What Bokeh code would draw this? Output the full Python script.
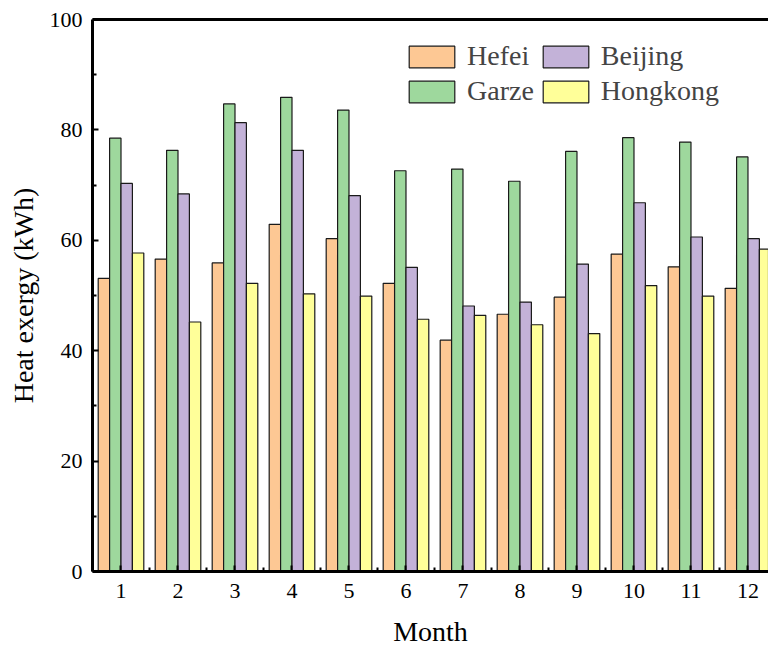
from bokeh.plotting import figure
from bokeh.models import (ColumnDataSource, Legend, LegendItem, FixedTicker, LinearAxis, Range1d)
from bokeh.embed import file_html
from bokeh.resources import INLINE
from bokeh.transform import dodge

months = [1, 2, 3, 4, 5, 6, 7, 8, 9, 10, 11, 12]
hefei = [53.1, 56.6, 55.9, 62.9, 60.3, 52.2, 41.9, 46.6, 49.7, 57.5, 55.2, 51.3]
garze = [78.5, 76.3, 84.7, 85.9, 83.6, 72.6, 72.9, 70.7, 76.1, 78.6, 77.8, 75.1]
beijing = [70.3, 68.4, 81.3, 76.3, 68.1, 55.1, 48.1, 48.8, 55.7, 66.8, 60.6, 60.3]
hongkong = [57.7, 45.2, 52.2, 50.3, 49.9, 45.7, 46.4, 44.7, 43.1, 51.8, 49.9, 58.4]

series_names = ["Hefei", "Garze", "Beijing", "Hongkong"]
colors = ["#FDC894", "#9ED89D", "#C3B2D8", "#FFFF99"]
offsets = [-0.3, -0.1, 0.1, 0.3]

src = ColumnDataSource(dict(month=months, Hefei=hefei, Garze=garze, Beijing=beijing, Hongkong=hongkong))

FONT = "Liberation Serif"

p = figure(width=768, height=649, output_backend="svg", toolbar_location=None,
           x_range=Range1d(0.5, 12.36), y_range=Range1d(0, 100),
           min_border_left=92, min_border_right=0, min_border_top=19, min_border_bottom=78)
p.outline_line_color = None
p.grid.grid_line_color = None

renderers = {}
for name, col, off in zip(series_names, colors, offsets):
    r = p.vbar(x=dodge("month", off), top=name, width=0.2, source=src,
               fill_color=col, line_color="#1a1a1a", line_width=1.2)
    renderers[name] = r

xa = p.xaxis[0]
ya = p.yaxis[0]
xa.ticker = FixedTicker(ticks=months, minor_ticks=[m + 0.5 for m in [0] + months])
ya.ticker = FixedTicker(ticks=[0, 20, 40, 60, 80, 100], minor_ticks=[10, 30, 50, 70, 90])
for ax in (xa, ya):
    ax.axis_line_width = 3
    ax.axis_line_color = "black"
    ax.major_tick_in = 6
    ax.major_tick_out = 0
    ax.minor_tick_in = 4
    ax.minor_tick_out = 0
    ax.major_tick_line_width = 2
    ax.minor_tick_line_width = 2
    ax.major_label_text_font = FONT
    ax.major_label_text_font_size = "22px"
    ax.major_label_text_color = "black"
    ax.axis_label_text_font = FONT
    ax.axis_label_text_font_size = "28px"
    ax.axis_label_text_font_style = "normal"
    ax.axis_label_text_color = "black"
xa.axis_label = "Month"
ya.axis_label = "Heat exergy (kWh)"
xa.major_label_standoff = 12
xa.axis_label_standoff = 15
ya.major_label_standoff = 10
ya.axis_label_standoff = 8

top = LinearAxis(ticker=FixedTicker(ticks=[]), axis_line_width=3, axis_line_color="black",
                 major_tick_line_color=None, minor_tick_line_color=None)
p.add_layout(top, "above")

items = [LegendItem(label=n, renderers=[renderers[n]]) for n in series_names]
legend = Legend(items=items, orientation="vertical", nrows=2,
                location=(311, 464), padding=0, margin=0, spacing=3,
                glyph_width=57, glyph_height=27, label_height=27,
                label_standoff=7, label_text_font=FONT, label_text_font_size="28px",
                border_line_color=None, background_fill_alpha=0)
p.add_layout(legend, "center")

open("out.html", "w").write(file_html(p, INLINE))
